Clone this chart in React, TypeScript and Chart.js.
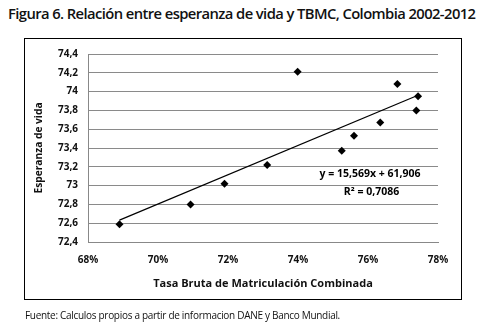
import React, { useEffect, useRef } from "react";
import { Chart, registerables } from "chart.js";

Chart.register(...registerables);

const TITLE = "Figura 6. Relación entre esperanza de vida y TBMC, Colombia 2002-2012";
const SOURCE = "Fuente: Calculos propios a partir de informacion DANE y Banco Mundial.";
const X_TITLE = "Tasa Bruta de Matriculación Combinada";
const Y_TITLE = "Esperanza de vida";

// TBMC (%) and life expectancy (years)
const tbmc = [68.9, 70.93, 71.9, 73.12, 73.99, 75.25, 75.6, 76.35, 76.84, 77.43, 77.38];
const lifeExp = [72.59, 72.8, 73.02, 73.22, 74.21, 73.37, 73.53, 73.67, 74.08, 73.95, 73.8];

// Trend line from the reported regression y = 15,569x + 61,906 (x as fraction)
const SLOPE = 15.569;
const INTERCEPT = 61.906;
const EQ_LABEL = "y = 15,569x + 61,906";
const R2_LABEL = "R² = 0,7086";

const X_MIN = 68;
const X_MAX = 78;
const Y_MIN = 72.4;
const Y_MAX = 74.4;

const fmtComma = (v: number) => {
  const r = Math.round(v * 10) / 10;
  return String(r).replace(".", ",");
};

export default function App() {
  const ref = useRef<HTMLCanvasElement | null>(null);

  useEffect(() => {
    document.body.style.margin = "0";
    const canvas = ref.current;
    if (!canvas) return;
    const xLo = Math.min(...tbmc);
    const xHi = Math.max(...tbmc);
    const trend = [
      { x: xLo, y: SLOPE * (xLo / 100) + INTERCEPT },
      { x: xHi, y: SLOPE * (xHi / 100) + INTERCEPT },
    ];
    const labelPlugin = {
      id: "eqLabel",
      afterDatasetsDraw(chart: any) {
        const { ctx, scales } = chart;
        const xs = scales.x;
        const ys = scales.y;
        ctx.save();
        ctx.fillStyle = "#000";
        ctx.font = "bold 10.5px 'Open Sans', sans-serif";
        ctx.textAlign = "center";
        ctx.textBaseline = "middle";
        ctx.fillText(EQ_LABEL, xs.getPixelForValue(76.06), ys.getPixelForValue(73.12));
        ctx.fillText(R2_LABEL, xs.getPixelForValue(76.1), ys.getPixelForValue(72.93));
        ctx.restore();
      },
    };
    const chart = new Chart(canvas, {
      type: "scatter",
      data: {
        datasets: [
          {
            type: "line",
            data: trend,
            borderColor: "#000",
            borderWidth: 1.2,
            pointRadius: 0,
            fill: false,
          } as any,
          {
            data: tbmc.map((x, i) => ({ x, y: lifeExp[i] })),
            pointStyle: "rectRot",
            pointRadius: 4,
            backgroundColor: "#000",
            borderColor: "#000",
            borderWidth: 0,
          },
        ],
      },
      options: {
        animation: false,
        responsive: false,
        maintainAspectRatio: false,
        layout: { padding: { left: 25, top: 54, right: 51, bottom: 30 } },
        plugins: {
          legend: { display: false },
          tooltip: { enabled: false },
        },
        scales: {
          x: {
            type: "linear",
            min: X_MIN,
            max: X_MAX,
            afterFit: (s: any) => {
              s.height = 51;
            },
            ticks: {
              stepSize: 2,
              padding: 12,
              color: "#111",
              font: { family: "'Open Sans', sans-serif", size: 10, weight: "bold" },
              callback: (v: any) => `${v}%`,
            },
            grid: { display: false, drawTicks: false },
            border: { display: true, color: "#888" },
            title: {
              display: true,
              text: X_TITLE,
              color: "#111",
              padding: { top: 0, bottom: 3 },
              font: { family: "'Open Sans', sans-serif", size: 11, weight: "bold" },
            },
          },
          y: {
            type: "linear",
            min: Y_MIN,
            max: Y_MAX,
            afterFit: (s: any) => {
              s.width = 63;
            },
            ticks: {
              stepSize: 0.2,
              padding: 10,
              color: "#111",
              font: { family: "'Open Sans', sans-serif", size: 10, weight: "bold" },
              callback: (v: any) => fmtComma(Number(v)),
            },
            grid: { color: "#8a8a8a", lineWidth: 1, drawTicks: false },
            border: { display: true, color: "#888" },
            title: {
              display: true,
              text: Y_TITLE,
              color: "#111",
              padding: { top: 8, bottom: 0 },
              font: { family: "'Open Sans', sans-serif", size: 10.2, weight: "bold" },
            },
          },
        },
      },
      plugins: [labelPlugin],
    });
    return () => chart.destroy();
  }, []);

  return (
    <div
      style={{
        position: "fixed",
        left: 0,
        top: 0,
        width: 489,
        height: 323,
        background: "#fff",
        fontFamily: "'Open Sans', sans-serif",
        overflow: "hidden",
      }}
    >
      <div
        style={{
          position: "absolute",
          left: 8,
          top: 3,
          fontSize: 15,
          fontWeight: 600,
          color: "#111",
          whiteSpace: "nowrap",
          letterSpacing: -0.6,
          transformOrigin: "left top",
          transform: "scaleX(0.985)",
          lineHeight: "20px",
        }}
      >
        {TITLE}
      </div>
      <div
        style={{
          position: "absolute",
          left: 24,
          top: 38,
          width: 438,
          height: 262,
          boxSizing: "border-box",
          border: "1px solid #000",
        }}
      />
      <canvas
        ref={ref}
        width={489}
        height={323}
        style={{ position: "absolute", left: 0, top: 0, width: 489, height: 323 }}
      />
      <div
        style={{
          position: "absolute",
          left: 25,
          top: 307,
          fontSize: 10,
          color: "#111",
          whiteSpace: "nowrap",
          letterSpacing: -0.3,
          transformOrigin: "left top",
          transform: "scaleX(1.0)",
          lineHeight: "16px",
        }}
      >
        {SOURCE}
      </div>
    </div>
  );
}
